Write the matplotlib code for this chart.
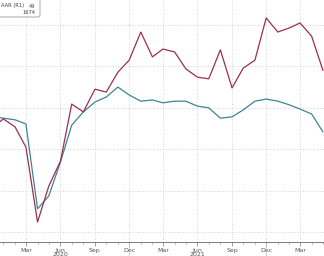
import numpy as np
import matplotlib
matplotlib.use("Agg")
import matplotlib.pyplot as plt
import matplotlib.dates as mdates
import matplotlib.transforms as mtransforms
from matplotlib.patches import FancyBboxPatch
import pandas as pd

# monthly points, Dec 2019 .. May 2022
months = pd.date_range("2019-12-01", "2022-05-01", freq="MS")

red_vals = [35.1, 37.3, 35.4, 30.5, 12.4, 21.1, 27.1, 40.9, 39.0, 44.5,
            43.8, 48.6, 51.5, 58.3, 52.3, 54.2, 53.5, 49.4, 47.4, 47.0,
            54.0, 44.8, 49.6, 51.5, 61.7, 58.3, 59.3, 60.5, 57.3, 49.1]
teal_vals = [37.8, 37.5, 37.1, 36.1, 15.6, 18.7, 26.9, 35.8, 39.0, 41.4,
             42.6, 45.0, 43.1, 41.6, 41.9, 41.2, 41.6, 41.6, 40.4, 40.0,
             37.5, 37.8, 39.5, 41.6, 42.1, 41.6, 40.7, 39.7, 38.5, 34.2]

legend_label = "AAR (R1)"
legend_val1 = "49"
legend_val2 = "1674"

red_c = "#9a3050"
teal_c = "#3f8494"
grid_c = "#c8c8c8"
txt_c = "#555555"

fig = plt.figure(figsize=(3.24, 2.56), dpi=100)
ax = fig.add_axes([0, 14 / 256, 1, 242 / 256])

ax.plot(months, teal_vals, color=teal_c, lw=0.9, zorder=3)
ax.plot(months, red_vals, color=red_c, lw=0.9, zorder=4)

ax.set_xlim(pd.Timestamp("2019-12-23"), pd.Timestamp("2022-05-04"))
ax.set_ylim(7.58, 66.04)

ax.xaxis.set_major_locator(mdates.MonthLocator(bymonth=[3, 6, 9, 12]))
ax.xaxis.set_minor_locator(mdates.MonthLocator())


def fmt(x, pos):
    d = mdates.num2date(x)
    s = d.strftime("%b")
    if d.month == 6:
        s += "\n" + str(d.year)
    return s


ax.xaxis.set_major_formatter(plt.FuncFormatter(fmt))
ax.set_yticks([10, 20, 30, 40, 50, 60])
ax.tick_params(axis="y", left=False, labelleft=False)
ax.tick_params(axis="x", which="major", length=3, width=0.5, color="#777777",
               labelsize=4.5, labelcolor=txt_c, pad=1)
ax.tick_params(axis="x", which="minor", length=1.5, width=0.4, color="#777777")
for lab in ax.get_xticklabels():
    lab.set_linespacing(0.85)

for s in ["top", "left", "right"]:
    ax.spines[s].set_visible(False)
ax.spines["bottom"].set_color("#666666")
ax.spines["bottom"].set_linewidth(0.6)

ax.grid(True, which="major", color=grid_c, linestyle=(0, (1, 2)), lw=0.6)

# year separator lines below the axis
trans = mtransforms.blended_transform_factory(ax.transData, ax.transAxes)
for d in ["2020-12-01", "2021-12-01"]:
    x = mdates.date2num(pd.Timestamp(d))
    ax.plot([x, x], [0, -0.06], color="#bbbbbb", lw=0.5, transform=trans, clip_on=False)

# partial legend box in upper left
box = FancyBboxPatch((-12, 256 - 17), 52, 30, boxstyle="round,pad=0,rounding_size=2",
                     transform=None, facecolor="white", edgecolor="#999999", lw=0.6, zorder=10)
fig.patches.append(box)
fig.text(1 / 324, 1 - 6 / 256, legend_label, ha="left", va="center", fontsize=3.7,
         color="#444444", zorder=11)
fig.text(35 / 324, 1 - 6 / 256, legend_val1, ha="right", va="center", fontsize=3.7,
         color="#444444", zorder=11)
fig.text(35 / 324, 1 - 13 / 256, legend_val2, ha="right", va="center", fontsize=3.7,
         color="#444444", zorder=11)

fig.savefig("out.png", dpi=100, facecolor="white")
